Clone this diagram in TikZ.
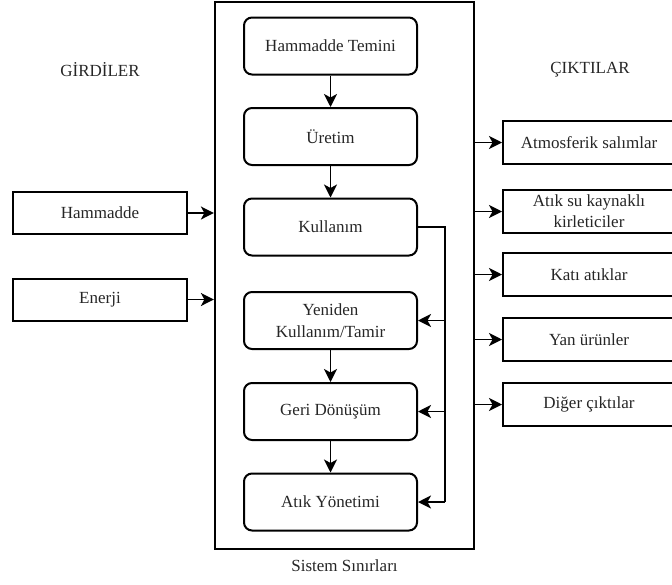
\documentclass[tikz,border=0pt]{standalone}
\usepackage{fontspec}
\setmainfont{Liberation Serif}
\usetikzlibrary{arrows.meta}
\begin{document}
\begin{tikzpicture}[x=1pt,y=-1pt,
  every node/.style={font=\rmfamily\fontsize{17}{22}\selectfont, text=black!85},
  stage/.style={draw, line width=2pt, rounded corners=8pt,
    minimum width=173pt, minimum height=57pt, align=center, inner sep=2pt},
  inbox/.style={draw, line width=2pt, minimum width=174pt, minimum height=42pt,
    align=center, inner sep=2pt},
  outbox/.style={draw, line width=2pt, minimum width=172pt, minimum height=43pt,
    align=center, inner sep=1pt},
  plain/.style={inner sep=0pt},
  link/.style={line width=1.8pt, -{Stealth[length=13pt,width=13pt,inset=3.5pt]}},
  wire/.style={line width=1.8pt}]
\useasboundingbox (0,0) rectangle (672,584);
\clip (0,0) rectangle (672,584);

% system boundary
\node[draw, line width=2.2pt, minimum width=259pt, minimum height=547pt,
  inner sep=0pt] (bnd) at (344.5,275.5) {};

% life-cycle stages
\node[stage] (tem) at (330.5,46)    {Hammadde Temini};
\node[stage] (ure) at (330.5,136.5) {Üretim};
\node[stage] (kul) at (330.5,227)   {Kullanım};
\node[stage] (yen) at (330.5,320.5) {Yeniden\\Kullanım/Tamir};
\node[stage] (ger) at (330.5,411.5) {Geri Dönüşüm};
\node[stage] (atk) at (330.5,502)   {Atık Yönetimi};

\draw[link] (tem) -- (ure);
\draw[link] (ure) -- (kul);
\draw[link] (yen) -- (ger);
\draw[link] (ger) -- (atk);

% feedback from use to the end-of-life stages
\coordinate (fb) at (445,227);
\draw[wire] (kul.east) -- (fb) -- (fb |- atk.east);
\draw[link] (fb |- yen.east) -- (yen.east);
\draw[link] (fb |- ger.east) -- (ger.east);
\draw[link] (fb |- atk.east) -- (atk.east);

% inputs
\node[plain] (gir) at (100,70) {GİRDİLER};
\node[inbox] (ham) at (100,213)   {Hammadde};
\node[inbox] (ene) at (100,299.5) {Enerji};
\draw[link] (ham.east) -- (ham.east -| bnd.west);
\draw[link] (ene.east) -- (ene.east -| bnd.west);

% outputs
\node[plain] (cik) at (590,70) {ÇIKTILAR};
\node[outbox] (atm) at (589,142.5) {Atmosferik salımlar};
\node[outbox, font=\rmfamily\fontsize{17}{21}\selectfont] (asu) at (589,211.5) {Atık su kaynaklı\\kirleticiler};
\node[outbox] (kat) at (589,274.5) {Katı atıklar};
\node[outbox] (yan) at (589,339.5) {Yan ürünler};
\node[outbox] (dig) at (589,404.5) {Diğer çıktılar};
\foreach \o in {atm,asu,kat,yan,dig}
  \draw[link] (\o.west -| bnd.east) -- (\o.west);

\node[plain] (sis) at (344.5,566) {Sistem Sınırları};
\end{tikzpicture}
\end{document}
